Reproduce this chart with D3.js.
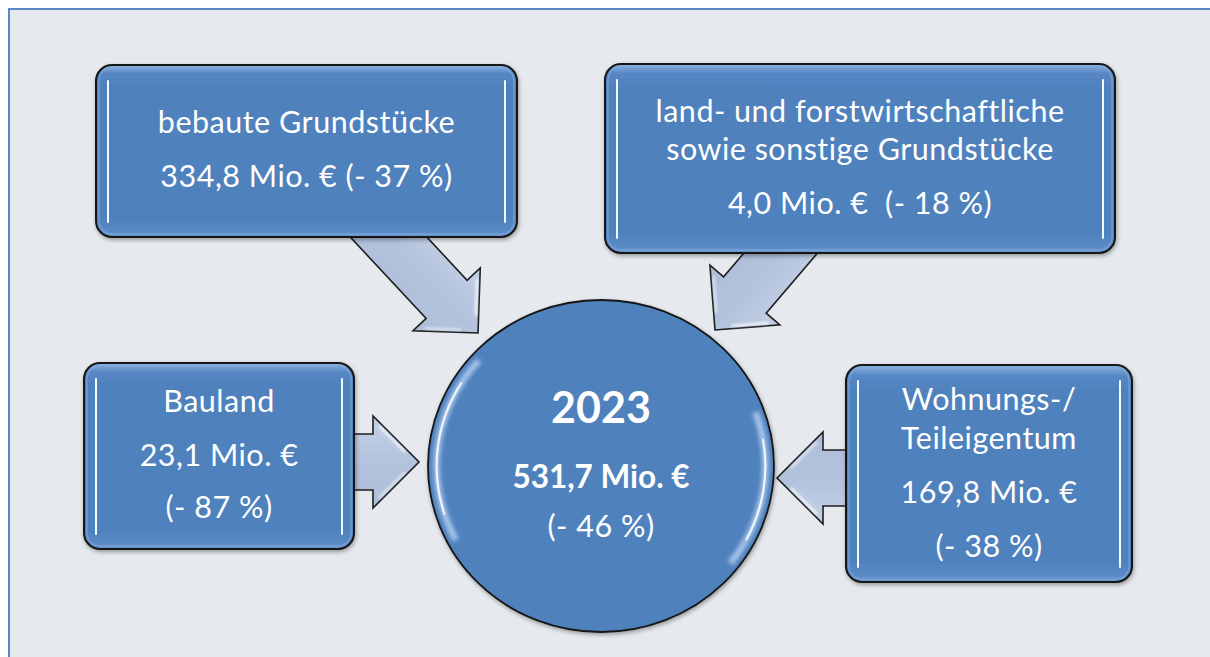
<!DOCTYPE html>
<html><head><meta charset="utf-8">
<script src="https://cdn.jsdelivr.net/npm/d3@7"></script>
<style>html,body{margin:0;padding:0;background:#fff;}svg{display:block;}</style>
</head><body>
<svg id="c" width="1210" height="657"></svg>
<script>
// ---- data ----
const categories = [
  ["bebaute Grundstücke"],
  ["land- und forstwirtschaftliche", "sowie sonstige Grundstücke"],
  ["Bauland"],
  ["Wohnungs-/", "Teileigentum"]
];
const values = [334.8, 4.0, 23.1, 169.8];      // Mio. €
const changes = [-37, -18, -87, -38];          // % vs. previous year
const totalYear = "2023";
const totalValue = 531.7;
const totalChange = -46;

// ---- formatting ----
const de = d3.formatLocale({decimal: ",", thousands: ".", grouping: [3], currency: ["", " €"]});
const fmt = de.format(".1f");
const money = v => fmt(v) + " Mio. €";
const pct = v => "(- " + Math.abs(v) + " %)";

// ---- layout (positions only) ----
const boxes = [
  {x: 96, y: 65, w: 421, h: 172, lines: (i) => [categories[i][0], money(values[i]) + " " + pct(changes[i])], base: [133, 187]},
  {x: 605, y: 64, w: 510, h: 189, lines: (i) => [categories[i][0], categories[i][1], money(values[i]) + "  " + pct(changes[i])], base: [122, 160, 214]},
  {x: 84, y: 363, w: 270, h: 186, lines: (i) => [categories[i][0], money(values[i]), pct(changes[i])], base: [412, 466, 518]},
  {x: 846, y: 365, w: 286, h: 217, lines: (i) => [categories[i][0], categories[i][1], money(values[i]), pct(changes[i])], base: [410, 449, 503, 557]}
];
const arrows = [
  {tx: 478, ty: 333, ang: 47, len: 160},
  {tx: 715, ty: 330, ang: 130.5, len: 130},
  {tx: 419, ty: 462, ang: 0, len: 80},
  {tx: 777, ty: 478, ang: 180, len: 85}
];
const circ = {cx: 601, cy: 466, rx: 173, ry: 166};

const FONT = "Lato, 'Open Sans', sans-serif";
const FS = 30.5, LS = 0.5;
const svg = d3.select("#c");
const defs = svg.append("defs");

// shadows / glows
const sh = defs.append("filter").attr("id", "shadow").attr("x", "-10%").attr("y", "-10%").attr("width", "120%").attr("height", "125%");
sh.append("feDropShadow").attr("dx", 1).attr("dy", 2).attr("stdDeviation", 2).attr("flood-color", "#000").attr("flood-opacity", 0.35);
const glow = defs.append("filter").attr("id", "glow").attr("x", "-50%").attr("y", "-10%").attr("width", "200%").attr("height", "120%");
glow.append("feGaussianBlur").attr("stdDeviation", 1.2);
const soft = defs.append("filter").attr("id", "soft").attr("x", "-20%").attr("y", "-20%").attr("width", "140%").attr("height", "140%");
soft.append("feGaussianBlur").attr("stdDeviation", 1.8);

const boxGrad = defs.append("linearGradient").attr("id", "boxGrad").attr("x1", 0).attr("y1", 0).attr("x2", 0).attr("y2", 1);
[[0, "#8fb3e0"], [0.05, "#5687c4"], [0.12, "#4f81bd"], [0.9, "#4f81bd"], [0.97, "#5a8bc7"], [1, "#6d99d0"]]
  .forEach(([o, c]) => boxGrad.append("stop").attr("offset", o).attr("stop-color", c));

const arrGrad = defs.append("linearGradient").attr("id", "arrGrad").attr("x1", 0).attr("y1", 0).attr("x2", 0).attr("y2", 1);
[[0, "#c4d1e6"], [0.5, "#b3c2dd"], [1, "#aebed9"]].forEach(([o, c]) => arrGrad.append("stop").attr("offset", o).attr("stop-color", c));

// background frame
svg.append("rect").attr("x", 0).attr("y", 0).attr("width", 1210).attr("height", 657).attr("fill", "#ffffff");
svg.append("rect").attr("x", 9).attr("y", 9).attr("width", 1220).attr("height", 670)
  .attr("fill", "#e6eaee").attr("stroke", "#5b88c3").attr("stroke-width", 2);

// arrows
function arrowPath(L, sw, hl, hw) {
  const p = d3.path();
  p.moveTo(-L, -sw / 2); p.lineTo(-hl, -sw / 2); p.lineTo(-hl, -hw / 2); p.lineTo(0, 0);
  p.lineTo(-hl, hw / 2); p.lineTo(-hl, sw / 2); p.lineTo(-L, sw / 2); p.closePath();
  return p.toString();
}
const ag = svg.append("g").selectAll("g").data(arrows).join("g")
  .attr("transform", d => `translate(${d.tx},${d.ty}) rotate(${d.ang})`);
ag.append("path").attr("d", d => arrowPath(d.len, 56, 46, 92))
  .attr("fill", "url(#arrGrad)").attr("stroke", "#1e1e1e").attr("stroke-width", 1.6).attr("stroke-linejoin", "miter");
// glints on arrow heads
ag.append("path").attr("d", "M-40,-36 L-14,-10").attr("stroke", "#ffffff").attr("stroke-width", 2.4).attr("opacity", 0.85).attr("filter", "url(#glow)");
ag.append("path").attr("d", "M-40,36 L-14,10").attr("stroke", "#ffffff").attr("stroke-width", 2.4).attr("opacity", 0.6).attr("filter", "url(#glow)");

// boxes
const bg = svg.append("g").selectAll("g").data(boxes).join("g");
bg.append("rect").attr("x", d => d.x).attr("y", d => d.y).attr("width", d => d.w).attr("height", d => d.h)
  .attr("rx", 16).attr("fill", "url(#boxGrad)").attr("stroke", "#151515").attr("stroke-width", 2)
  .attr("filter", "url(#shadow)");
bg.append("rect").attr("x", d => d.x + 3).attr("y", d => d.y + 3).attr("width", d => d.w - 6).attr("height", d => d.h - 6)
  .attr("rx", 13).attr("fill", "none").attr("stroke", "#7ea6db").attr("stroke-width", 1.5).attr("opacity", 0.7);
[12, -12].forEach(off => {
  const xf = d => off > 0 ? d.x + off : d.x + d.w + off;
  bg.append("line").attr("x1", xf).attr("x2", xf)
    .attr("y1", d => d.y + 15).attr("y2", d => d.y + d.h - 14)
    .attr("stroke", "#b9dcff").attr("stroke-width", 5).attr("stroke-linecap", "round").attr("filter", "url(#glow)");
  bg.append("line").attr("x1", xf).attr("x2", xf)
    .attr("y1", d => d.y + 16).attr("y2", d => d.y + d.h - 15)
    .attr("stroke", "#f2faff").attr("stroke-width", 2).attr("stroke-linecap", "round");
});
bg.each(function (d, i) {
  const g = d3.select(this);
  const ls = d.lines(i);
  g.selectAll("text").data(ls).join("text")
    .attr("x", d.x + d.w / 2).attr("y", (t, j) => d.base[j])
    .attr("text-anchor", "middle").attr("fill", "#ffffff")
    .attr("font-family", FONT).attr("font-size", FS).attr("letter-spacing", LS)
    .style("white-space", "pre")
    .text(t => t);
});

// circle
const cg = svg.append("g");
cg.append("ellipse").attr("cx", circ.cx).attr("cy", circ.cy).attr("rx", circ.rx).attr("ry", circ.ry)
  .attr("fill", "#4f81bd").attr("stroke", "#151515").attr("stroke-width", 1.8).attr("filter", "url(#shadow)");
const arcGen = d3.arc();
const R = 160;
const deg = Math.PI / 180;
const hl = cg.append("g").attr("transform", `translate(${circ.cx},${circ.cy}) scale(${circ.rx / R},${circ.ry / R})`);
[[-118, -48], [70, 128]].forEach(([a0, a1]) => {
  hl.append("path").attr("d", arcGen({innerRadius: R - 11, outerRadius: R - 5, startAngle: a0 * deg, endAngle: a1 * deg, cornerRadius: 3}))
    .attr("fill", "#c6defa").attr("opacity", 0.75).attr("filter", "url(#soft)");
  hl.append("path").attr("d", arcGen({innerRadius: R - 9, outerRadius: R - 7, startAngle: (a0 + 10) * deg, endAngle: (a1 - 10) * deg, cornerRadius: 1}))
    .attr("fill", "#ffffff").attr("opacity", 0.85);
});
cg.append("text").attr("x", circ.cx).attr("y", 423).attr("text-anchor", "middle").attr("fill", "#fff")
  .attr("font-family", FONT).attr("font-weight", 700).attr("font-size", 43).text(totalYear);
cg.append("text").attr("x", circ.cx).attr("y", 488).attr("text-anchor", "middle").attr("fill", "#fff")
  .attr("font-family", FONT).attr("font-weight", 700).attr("font-size", 31.5).text(money(totalValue));
cg.append("text").attr("x", circ.cx).attr("y", 537).attr("text-anchor", "middle").attr("fill", "#fff")
  .attr("font-family", FONT).attr("font-size", FS).attr("letter-spacing", LS).text(pct(totalChange));
</script>
</body></html>
